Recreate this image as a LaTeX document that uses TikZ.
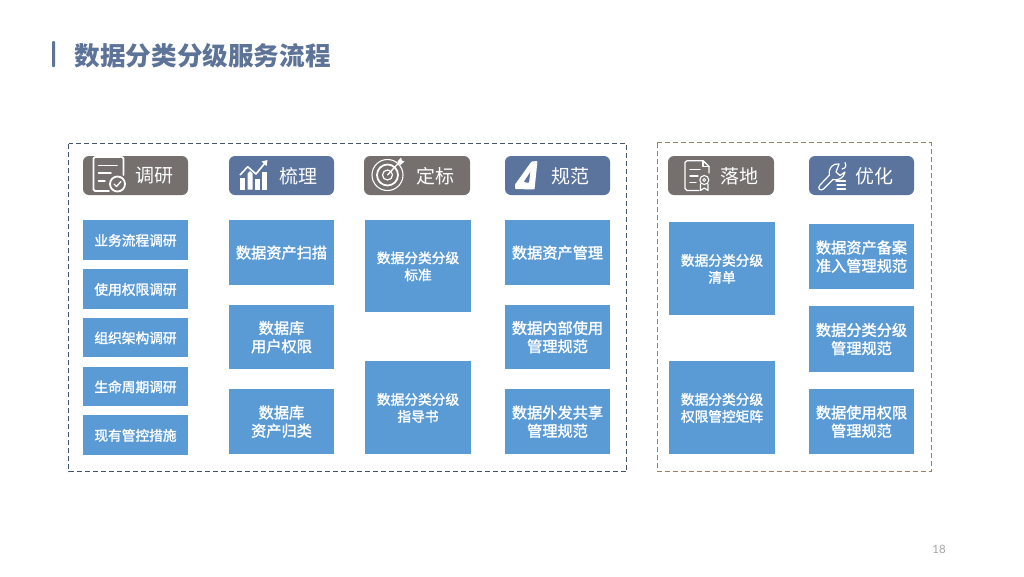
\documentclass[tikz,border=0pt]{standalone}
\usepackage{fontspec}
\setmainfont{Noto Sans CJK SC}
\setsansfont{Lato}
\newfontfamily\cjkmed[FakeBold=1.6]{Noto Sans CJK SC}
\definecolor{titleblue}{HTML}{5D7398}
\definecolor{boxblue}{HTML}{5B9BD5}
\definecolor{headblue}{HTML}{5A749E}
\definecolor{headgrey}{HTML}{75706E}
\definecolor{frameblue}{HTML}{44546A}
\definecolor{framebrown}{HTML}{9C7F5F}
\definecolor{pagegrey}{HTML}{A6A6A6}
\tikzset{
  px/.style={x=1pt,y=-1pt},
  bluebox/.style={fill=boxblue,draw=none,inner sep=0pt,text=white,font=\cjkmed\fontsize{15.2}{18}\selectfont},
  smallbox/.style={bluebox,font=\cjkmed\fontsize{13.7}{17}\selectfont},
  headbox/.style={rounded corners=6pt,draw=none},
  headtext/.style={text=white,inner sep=0pt,font=\fontsize{19}{19}\selectfont},
  frame/.style={line width=0.9pt,dash pattern=on 5pt off 3pt},
  ic/.style={draw=white,line width=1.5pt,line cap=round,line join=round,fill=none}
}
\newcommand{\bx}[7]{\node[#7,minimum width=#4pt-#2pt,minimum height=#5pt-#3pt] (#1) at ({(#2+#4)/2},{(#3+#5)/2}) {\raisebox{-2.2pt}[\height][\depth]{\begin{tabular}{@{}c@{}}#6\end{tabular}}};}
\begin{document}
\begin{tikzpicture}[px]
\useasboundingbox (0,0) rectangle (1024,576);
\fill[white] (0,0) rectangle (1024,576);
% title
\fill[titleblue,rounded corners=1pt] (52,41) rectangle (55,67);
\node[anchor=west,inner sep=0pt,text=titleblue,font=\fontsize{25.6}{26}\selectfont\bfseries] (title) at (74.5,55.5) {数据分类分级服务流程};
% frames
\draw[frame,draw=frameblue] (68.5,143.5) rectangle (626.5,471.5);
\draw[frame,draw=framebrown] (657,142.5) rectangle (931,471);
% headers
\node[headbox,fill=headgrey,minimum width=105pt,minimum height=39pt,inner sep=0pt] (h1) at (135.5,175.5) {};
\node[headbox,fill=headblue,minimum width=105pt,minimum height=39pt,inner sep=0pt] (h2) at (281.5,175.5) {};
\node[headbox,fill=headgrey,minimum width=106pt,minimum height=39pt,inner sep=0pt] (h3) at (417,175.5) {};
\node[headbox,fill=headblue,minimum width=105pt,minimum height=39pt,inner sep=0pt] (h4) at (557.5,175.5) {};
\node[headbox,fill=headgrey,minimum width=106pt,minimum height=39pt,inner sep=0pt] (h5) at (721,175.5) {};
\node[headbox,fill=headblue,minimum width=105pt,minimum height=39pt,inner sep=0pt] (h6) at (861.5,175.5) {};
\node[headtext] (t1) at (154,176) {调研};
\node[headtext] (t2) at (298,176) {梳理};
\node[headtext] (t3) at (435.5,176) {定标};
\node[headtext] (t4) at (570,176) {规范};
\node[headtext] (t5) at (739,176) {落地};
\node[headtext] (t6) at (874,176) {优化};
% column 1
\bx{a1}{83}{220}{188}{260}{业务流程调研}{smallbox}
\bx{a2}{83}{269}{188}{309}{使用权限调研}{smallbox}
\bx{a3}{83}{318}{188}{357}{组织架构调研}{smallbox}
\bx{a4}{83}{367}{188}{406}{生命周期调研}{smallbox}
\bx{a5}{83}{415}{188}{455}{现有管控措施}{smallbox}
% column 2
\bx{b1}{229}{220}{334}{285}{数据资产扫描}{bluebox}
\bx{b2}{229}{305}{334}{369}{数据库\\用户权限}{bluebox}
\bx{b3}{229}{389}{334}{454}{数据库\\资产归类}{bluebox}
% column 3
\bx{c1}{365}{220}{471}{312}{数据分类分级\\标准}{smallbox}
\bx{c2}{365}{361}{471}{454}{数据分类分级\\指导书}{smallbox}
% column 4
\bx{d1}{505}{220}{610}{285}{数据资产管理}{bluebox}
\bx{d2}{505}{305}{610}{369}{数据内部使用\\管理规范}{bluebox}
\bx{d3}{505}{389}{610}{454}{数据外发共享\\管理规范}{bluebox}
% column 5
\bx{e1}{669}{222}{775}{315}{数据分类分级\\清单}{smallbox}
\bx{e2}{669}{361}{775}{454}{数据分类分级\\权限管控矩阵}{smallbox}
% column 6
\bx{f1}{809}{224}{914}{289}{数据资产备案\\准入管理规范}{bluebox}
\bx{f2}{809}{306}{914}{372}{数据分类分级\\管理规范}{bluebox}
\bx{f3}{809}{389}{914}{454}{数据使用权限\\管理规范}{bluebox}
% icon 1: document with check
\draw[ic,line width=1.8pt] (109,191) -- (95,191) -- (93.5,189.5) -- (93.5,158.5) -- (95,157) -- (122,157) -- (123.5,158.5) -- (123.5,175);
\draw[ic,line width=1.8pt] (98.5,165.5) -- (117,165.5) (98.5,172.7) -- (111,172.7) (98.5,180.7) -- (105,180.7);
\draw[ic,line width=1.8pt] (117.5,184) circle (7.5);
\draw[ic,line width=1.3pt] (114,184) -- (116.5,186.5) -- (121,181.5);
% icon 2: bars with rising arrow
\fill[white] (240,178) rectangle (245,189.5);
\fill[white] (247.7,173.5) -- (250.2,171) -- (252.7,173.5) -- (252.7,189.5) -- (247.7,189.5) -- cycle;
\fill[white] (255.3,179) rectangle (260,189.5);
\fill[white] (261.7,172) rectangle (266.7,189.5);
\draw[white,line width=1.6pt,line join=round] (240,175) -- (247.7,166.7) -- (256,174) -- (265,163);
\fill[white] (267.5,160) -- (261.5,161.5) -- (266.5,166) -- cycle;
% icon 3: target
\draw[ic,line width=1.1pt] (387.5,175) circle (15.5);
\draw[ic,line width=1.8pt] (387.5,175) circle (10.5);
\draw[ic,line width=1.2pt] (387.5,175) circle (5);
\draw[ic,line width=1.3pt] (387.5,175) -- (399,162.5);
\fill[white] (397.5,161.5) -- (401,157.5) -- (402,160.5) -- (404.5,161.5) -- (400.5,165) -- cycle;
% icon 4: set square
\fill[white,even odd rule,rounded corners=0.8pt] (515,184.5) -- (531.5,161.5) -- (537.5,161) -- (534.5,189.5) -- (515,189) -- cycle (523.5,182) -- (529,183) -- (530.5,171.5) -- cycle;
% icon 5: document with seal
\draw[ic,line width=1.3pt] (699,190.5) -- (687,190.5) -- (685,188.5) -- (685,162.5) -- (687,160.7) -- (703,160.7) -- (709,166.5) -- (709,173);
\draw[ic,line width=1.1pt] (703,160.7) -- (703,166.5) -- (709,166.5);
\draw[ic,line width=1.2pt] (690,169.5) -- (700,169.5) (690,176) -- (698,176) (690,182.7) -- (696,182.7);
\draw[ic,line width=1.1pt] (704.3,180) circle (4.5);
\draw[ic,line width=0.9pt] (704.3,180) circle (1.5);
\draw[ic,line width=1.1pt] (700.5,184) -- (700.5,190.5) -- (704.3,188) -- (708,190.5) -- (708,184);
% icon 6: wrench with arrow and lines
\draw[ic,line width=1.2pt] (829.5,175) -- (820,185) .. controls (817,188.5) and (820,191.5) .. (823.5,189) -- (833,179.5) .. controls (838,181) and (844,178) .. (845,172) -- (840,175.5) -- (836,172) -- (839,164) .. controls (833,163) and (828,168) .. (829.5,175) -- cycle;
\draw[ic,line width=1.2pt] (842,169) .. controls (846,168) and (846.5,166) .. (845,162.5);
\draw[ic,line width=1.2pt] (836,181) -- (845.5,181) (837,185) -- (845.5,185) (837,189) -- (845.5,189);
% page number
\node[inner sep=0pt,text=pagegrey,font=\sffamily\fontsize{11.5}{12}\selectfont] (page) at (939,549.5) {18};
\end{tikzpicture}
\end{document}
